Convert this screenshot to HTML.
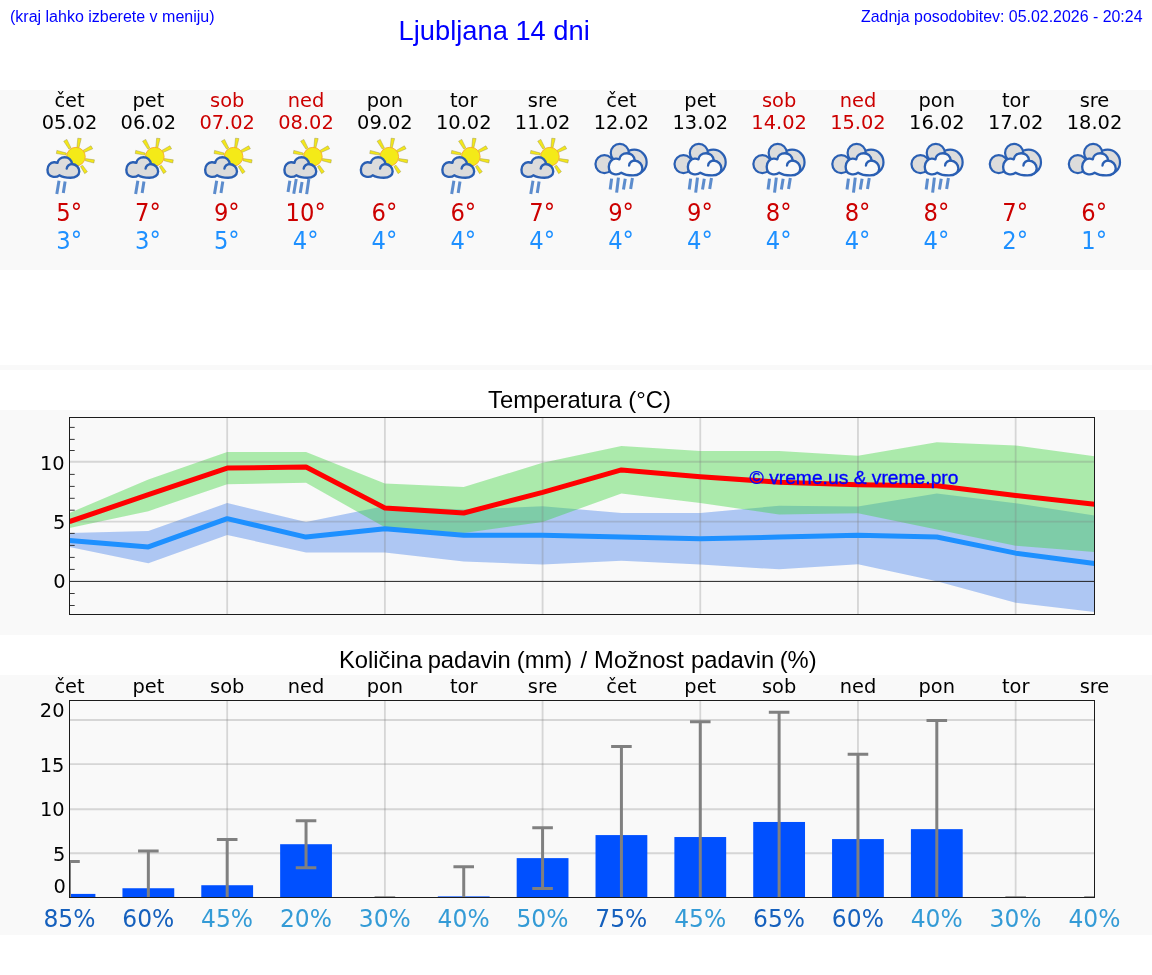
<!DOCTYPE html>
<html lang="sl">
<head>
<meta charset="utf-8">
<title>Ljubljana 14 dni</title>
<style>
html,body{margin:0;padding:0;background:#fff;}
body{width:1152px;height:975px;overflow:hidden;position:relative;}
svg{display:block;position:absolute;left:0;top:0;}
.ls{font-family:"Liberation Sans",Arial,Helvetica,sans-serif;}
.dv{font-family:"DejaVu Sans","Liberation Sans",sans-serif;}
.c{text-anchor:middle;}
.e{text-anchor:end;}
</style>
</head>
<body>
<svg width="1152" height="975" viewBox="0 0 1152 975">

<rect x="0" y="0" width="1152" height="975" fill="#ffffff"/>
<rect x="0" y="90" width="1152" height="180" fill="#f9f9f9"/>
<rect x="0" y="365" width="1152" height="5" fill="#f9f9f9"/>
<rect x="0" y="410" width="1152" height="225" fill="#f9f9f9"/>
<rect x="0" y="675" width="1152" height="260" fill="#f9f9f9"/>
<g class="ls" fill="#0000ff">
<text x="10" y="21.5" font-size="16">(kraj lahko izberete v meniju)</text>
<text x="494.2" y="39.6" font-size="27.3" class="c">Ljubljana 14 dni</text>
<text x="1142.5" y="21.5" font-size="15.93" class="e">Zadnja posodobitev: 05.02.2026 - 20:24</text>
</g>
<defs>
<path id="cl" d="M325 603C300 625 260 628 230 622C185 612 160 570 160 525C160 470 200 425 250 422C270 421 285 424 300 430C305 385 345 352 400 352C455 352 495 390 503 445C560 450 603 495 603 550C603 600 555 638 480 638C420 638 360 625 325 603Z"/>
<path id="cu" d="M503 445C470 445 430 470 428 510"/>
<g id="sun" transform="translate(36,132) scale(0.07179)">
<g fill="#f3e71a" stroke="#9c9548" stroke-opacity="0.7" stroke-width="9" stroke-linejoin="round">
<path d="M570 215L582 86L630 92L598 220Z"/>
<path d="M458 238L386 128L430 103L488 222Z"/>
<path d="M418 322L284 300L291 256L424 294Z"/>
<path d="M655 256L766 192L790 234L670 286Z"/>
<path d="M688 370L814 388L806 432L686 400Z"/>
<path d="M648 462L716 552L678 580L620 480Z"/>
</g>
<circle cx="556" cy="344" r="130" fill="#f4ea18" stroke="#f8ad2a" stroke-width="13"/>
</g>
<g id="cloudA" transform="translate(36,132) scale(0.07179)">
<use href="#cl" fill="#dcdcdc" stroke="#2a5fb3" stroke-width="33" stroke-linejoin="round"/>
<use href="#cu" fill="none" stroke="#2a5fb3" stroke-width="33" stroke-linecap="round"/>
</g>
<g id="icC"><use href="#sun"/><use href="#cloudA"/></g>
<g id="icA"><use href="#icC"/>
<path d="M59 180.8L56.8 194.1M65.1 181.5L63.3 193" stroke="#4a80c8" stroke-width="3" stroke-opacity="0.9" fill="none"/>
</g>
<g id="icB"><use href="#icC"/>
<path d="M52.9 180.8L51.1 192M59.3 179L56.8 193.7M65.1 181.9L63.3 193M71.9 179L69.7 194.1" stroke="#4a80c8" stroke-width="3" stroke-opacity="0.9" fill="none"/>
</g>
<g id="icE" transform="translate(34,132) scale(0.07179)">
<g fill="#dcdcdc" stroke="#2a5fb3" stroke-width="31">
<circle cx="670" cy="420" r="173"/>
<circle cx="469" cy="291" r="126"/>
<circle cx="255" cy="447" r="125"/>
</g>
<g transform="translate(147,-83) scale(1.056,1.077)">
<use href="#cl" fill="#f9f9f9" stroke="#2a5fb3" stroke-width="31" stroke-linejoin="round"/>
<use href="#cu" fill="none" stroke="#2a5fb3" stroke-width="31" stroke-linecap="round"/>
</g>
</g>
<g id="icD"><use href="#icE"/>
<g transform="translate(34,132) scale(0.07179)">
<path d="M355 650L335 800M450 635L425 845M545 650L520 800M645 640L620 795" stroke="#4a80c8" stroke-width="42" stroke-opacity="0.9" fill="none"/>
</g>
</g>
</defs>

<g class="dv c">
<text x="69.5" y="106.6" font-size="19.4" fill="#000000">čet</text>
<text x="69.5" y="128.8" font-size="19.4" fill="#000000">05.02</text>
<use href="#icA" x="0" y="0"/>
<text transform="translate(69.1,221) scale(0.907,1)" font-size="25" fill="#cc0000">5°</text>
<text transform="translate(69.1,248.9) scale(0.907,1)" font-size="25" fill="#1e90ff">3°</text>
<text x="148.35" y="106.6" font-size="19.4" fill="#000000">pet</text>
<text x="148.35" y="128.8" font-size="19.4" fill="#000000">06.02</text>
<use href="#icA" x="78.85" y="0"/>
<text transform="translate(147.95,221) scale(0.907,1)" font-size="25" fill="#cc0000">7°</text>
<text transform="translate(147.95,248.9) scale(0.907,1)" font-size="25" fill="#1e90ff">3°</text>
<text x="227.19" y="106.6" font-size="19.4" fill="#cc0000">sob</text>
<text x="227.19" y="128.8" font-size="19.4" fill="#cc0000">07.02</text>
<use href="#icA" x="157.69" y="0"/>
<text transform="translate(226.79,221) scale(0.907,1)" font-size="25" fill="#cc0000">9°</text>
<text transform="translate(226.79,248.9) scale(0.907,1)" font-size="25" fill="#1e90ff">5°</text>
<text x="306.04" y="106.6" font-size="19.4" fill="#cc0000">ned</text>
<text x="306.04" y="128.8" font-size="19.4" fill="#cc0000">08.02</text>
<use href="#icB" x="236.94" y="0"/>
<text transform="translate(305.64,221) scale(0.907,1)" font-size="25" fill="#cc0000">10°</text>
<text transform="translate(305.64,248.9) scale(0.907,1)" font-size="25" fill="#1e90ff">4°</text>
<text x="384.88" y="106.6" font-size="19.4" fill="#000000">pon</text>
<text x="384.88" y="128.8" font-size="19.4" fill="#000000">09.02</text>
<use href="#icC" x="313.38" y="0"/>
<text transform="translate(384.48,221) scale(0.907,1)" font-size="25" fill="#cc0000">6°</text>
<text transform="translate(384.48,248.9) scale(0.907,1)" font-size="25" fill="#1e90ff">4°</text>
<text x="463.73" y="106.6" font-size="19.4" fill="#000000">tor</text>
<text x="463.73" y="128.8" font-size="19.4" fill="#000000">10.02</text>
<use href="#icA" x="394.88" y="0"/>
<text transform="translate(463.33,221) scale(0.907,1)" font-size="25" fill="#cc0000">6°</text>
<text transform="translate(463.33,248.9) scale(0.907,1)" font-size="25" fill="#1e90ff">4°</text>
<text x="542.58" y="106.6" font-size="19.4" fill="#000000">sre</text>
<text x="542.58" y="128.8" font-size="19.4" fill="#000000">11.02</text>
<use href="#icA" x="473.98" y="0"/>
<text transform="translate(542.18,221) scale(0.907,1)" font-size="25" fill="#cc0000">7°</text>
<text transform="translate(542.18,248.9) scale(0.907,1)" font-size="25" fill="#1e90ff">4°</text>
<text x="621.42" y="106.6" font-size="19.4" fill="#000000">čet</text>
<text x="621.42" y="128.8" font-size="19.4" fill="#000000">12.02</text>
<use href="#icD" x="552.12" y="0"/>
<text transform="translate(621.02,221) scale(0.907,1)" font-size="25" fill="#cc0000">9°</text>
<text transform="translate(621.02,248.9) scale(0.907,1)" font-size="25" fill="#1e90ff">4°</text>
<text x="700.27" y="106.6" font-size="19.4" fill="#000000">pet</text>
<text x="700.27" y="128.8" font-size="19.4" fill="#000000">13.02</text>
<use href="#icD" x="631.17" y="0"/>
<text transform="translate(699.87,221) scale(0.907,1)" font-size="25" fill="#cc0000">9°</text>
<text transform="translate(699.87,248.9) scale(0.907,1)" font-size="25" fill="#1e90ff">4°</text>
<text x="779.12" y="106.6" font-size="19.4" fill="#cc0000">sob</text>
<text x="779.12" y="128.8" font-size="19.4" fill="#cc0000">14.02</text>
<use href="#icD" x="710.02" y="0"/>
<text transform="translate(778.72,221) scale(0.907,1)" font-size="25" fill="#cc0000">8°</text>
<text transform="translate(778.72,248.9) scale(0.907,1)" font-size="25" fill="#1e90ff">4°</text>
<text x="857.96" y="106.6" font-size="19.4" fill="#cc0000">ned</text>
<text x="857.96" y="128.8" font-size="19.4" fill="#cc0000">15.02</text>
<use href="#icD" x="788.96" y="0"/>
<text transform="translate(857.56,221) scale(0.907,1)" font-size="25" fill="#cc0000">8°</text>
<text transform="translate(857.56,248.9) scale(0.907,1)" font-size="25" fill="#1e90ff">4°</text>
<text x="936.81" y="106.6" font-size="19.4" fill="#000000">pon</text>
<text x="936.81" y="128.8" font-size="19.4" fill="#000000">16.02</text>
<use href="#icD" x="868.11" y="0"/>
<text transform="translate(936.41,221) scale(0.907,1)" font-size="25" fill="#cc0000">8°</text>
<text transform="translate(936.41,248.9) scale(0.907,1)" font-size="25" fill="#1e90ff">4°</text>
<text x="1015.65" y="106.6" font-size="19.4" fill="#000000">tor</text>
<text x="1015.65" y="128.8" font-size="19.4" fill="#000000">17.02</text>
<use href="#icE" x="946.45" y="0"/>
<text transform="translate(1015.25,221) scale(0.907,1)" font-size="25" fill="#cc0000">7°</text>
<text transform="translate(1015.25,248.9) scale(0.907,1)" font-size="25" fill="#1e90ff">2°</text>
<text x="1094.5" y="106.6" font-size="19.4" fill="#000000">sre</text>
<text x="1094.5" y="128.8" font-size="19.4" fill="#000000">18.02</text>
<use href="#icE" x="1025.5" y="0"/>
<text transform="translate(1094.1,221) scale(0.907,1)" font-size="25" fill="#cc0000">6°</text>
<text transform="translate(1094.1,248.9) scale(0.907,1)" font-size="25" fill="#1e90ff">1°</text>
</g>
<text x="579.5" y="408" font-size="23.8" class="ls c" fill="#000">Temperatura (°C)</text>
<clipPath id="ct"><rect x="69.5" y="417.5" width="1025.0" height="197.0"/></clipPath>
<g clip-path="url(#ct)">
<polygon points="69.5,533.12 148.35,530.97 227.19,503.06 306.04,521.91 384.88,506.04 463.73,509.62 542.58,506.28 621.42,512.96 700.27,512.96 779.12,505.8 857.96,506.4 936.81,493.51 1015.65,503.3 1094.5,515.47 1094.5,611.98 1015.65,602.67 936.81,581.2 857.96,564.14 779.12,569.27 700.27,564.62 621.42,560.68 542.58,564.62 463.73,561.4 384.88,552.57 306.04,552.57 227.19,534.91 148.35,563.31 69.5,546.96" fill="#6495ed" fill-opacity="0.5"/>
<polygon points="69.5,512.96 148.35,479.56 227.19,452 306.04,452 384.88,483.61 463.73,487.07 542.58,462.85 621.42,445.91 700.27,450.92 779.12,450.92 857.96,455.7 936.81,442.33 1015.65,445.56 1094.5,456.29 1094.5,552.09 1015.65,545.65 936.81,529.54 857.96,513.32 779.12,514.39 700.27,503.06 621.42,493.51 542.58,521.91 463.73,533.12 384.88,527.28 306.04,482.78 227.19,484.33 148.35,511.17 69.5,527.99" fill="#38d438" fill-opacity="0.4"/>
<line x1="227.19" y1="417.5" x2="227.19" y2="614.5" stroke="#808080" stroke-opacity="0.29" stroke-width="1.8"/>
<line x1="384.88" y1="417.5" x2="384.88" y2="614.5" stroke="#808080" stroke-opacity="0.29" stroke-width="1.8"/>
<line x1="542.58" y1="417.5" x2="542.58" y2="614.5" stroke="#808080" stroke-opacity="0.29" stroke-width="1.8"/>
<line x1="700.27" y1="417.5" x2="700.27" y2="614.5" stroke="#808080" stroke-opacity="0.29" stroke-width="1.8"/>
<line x1="857.96" y1="417.5" x2="857.96" y2="614.5" stroke="#808080" stroke-opacity="0.29" stroke-width="1.8"/>
<line x1="1015.65" y1="417.5" x2="1015.65" y2="614.5" stroke="#808080" stroke-opacity="0.29" stroke-width="1.8"/>
<line x1="69.5" y1="521.6" x2="1094.5" y2="521.6" stroke="#808080" stroke-opacity="0.29" stroke-width="1.9"/>
<line x1="69.5" y1="461.8" x2="1094.5" y2="461.8" stroke="#808080" stroke-opacity="0.29" stroke-width="1.9"/>
<line x1="69.5" y1="581.4" x2="1094.5" y2="581.4" stroke="#222" stroke-width="1"/>
<polyline points="69.5,540.52 148.35,546.96 227.19,518.69 306.04,537.06 384.88,528.83 463.73,535.27 542.58,535.27 621.42,537.06 700.27,538.73 779.12,537.06 857.96,535.27 936.81,537.06 1015.65,553.16 1094.5,563.54" fill="none" stroke="#1e90ff" stroke-width="5" stroke-linejoin="round"/>
<polyline points="69.5,521.55 148.35,494.71 227.19,468.1 306.04,467.03 384.88,507.95 463.73,512.96 542.58,492.44 621.42,469.89 700.27,476.69 779.12,482.18 857.96,484.69 936.81,485.76 1015.65,495.54 1094.5,504.25" fill="none" stroke="#ff0000" stroke-width="5" stroke-linejoin="round"/>
</g>
<line x1="69.5" y1="427.4" x2="74.7" y2="427.4" stroke="#222" stroke-width="0.9"/>
<line x1="69.5" y1="439.4" x2="74.7" y2="439.4" stroke="#222" stroke-width="0.9"/>
<line x1="69.5" y1="450.5" x2="74.7" y2="450.5" stroke="#222" stroke-width="0.9"/>
<line x1="69.5" y1="474.4" x2="74.7" y2="474.4" stroke="#222" stroke-width="0.9"/>
<line x1="69.5" y1="486.4" x2="74.7" y2="486.4" stroke="#222" stroke-width="0.9"/>
<line x1="69.5" y1="498.3" x2="74.7" y2="498.3" stroke="#222" stroke-width="0.9"/>
<line x1="69.5" y1="510.2" x2="74.7" y2="510.2" stroke="#222" stroke-width="0.9"/>
<line x1="69.5" y1="533.4" x2="74.7" y2="533.4" stroke="#222" stroke-width="0.9"/>
<line x1="69.5" y1="545.4" x2="74.7" y2="545.4" stroke="#222" stroke-width="0.9"/>
<line x1="69.5" y1="557.4" x2="74.7" y2="557.4" stroke="#222" stroke-width="0.9"/>
<line x1="69.5" y1="569.4" x2="74.7" y2="569.4" stroke="#222" stroke-width="0.9"/>
<line x1="69.5" y1="593.5" x2="74.7" y2="593.5" stroke="#222" stroke-width="0.9"/>
<line x1="69.5" y1="605.5" x2="74.7" y2="605.5" stroke="#222" stroke-width="0.9"/>
<rect x="69.5" y="417.5" width="1025.0" height="197.0" fill="none" stroke="#1c1c1c" stroke-width="1"/>
<g class="dv e" font-size="19.4" fill="#000">
<text x="64.7" y="470.3">10</text>
<text x="65.3" y="528.95">5</text>
<text x="65.6" y="588.4">0</text>
</g>
<text x="749.6" y="483.6" font-size="19.25" class="ls" fill="#0000ff" stroke="#0000ff" stroke-width="0.35">© vreme.us &amp; vreme.pro</text>
<text y="667.8" font-size="23.75" class="ls" fill="#000"><tspan x="338.98">Količina</tspan> <tspan x="427.64">padavin</tspan> <tspan x="516.74">(mm)</tspan> <tspan x="580.42">/</tspan> <tspan x="594.11">Možnost</tspan> <tspan x="690.97">padavin</tspan> <tspan x="779.67">(%)</tspan></text>
<g class="dv c" font-size="19.4" fill="#000">
<text x="69.5" y="693">čet</text>
<text x="148.35" y="693">pet</text>
<text x="227.19" y="693">sob</text>
<text x="306.04" y="693">ned</text>
<text x="384.88" y="693">pon</text>
<text x="463.73" y="693">tor</text>
<text x="542.58" y="693">sre</text>
<text x="621.42" y="693">čet</text>
<text x="700.27" y="693">pet</text>
<text x="779.12" y="693">sob</text>
<text x="857.96" y="693">ned</text>
<text x="936.81" y="693">pon</text>
<text x="1015.65" y="693">tor</text>
<text x="1094.5" y="693">sre</text>
</g>
<clipPath id="cp"><rect x="69.5" y="700.5" width="1025.0" height="197.0"/></clipPath>
<g clip-path="url(#cp)">
<line x1="227.19" y1="700.5" x2="227.19" y2="897.5" stroke="#808080" stroke-opacity="0.29" stroke-width="1.8"/>
<line x1="384.88" y1="700.5" x2="384.88" y2="897.5" stroke="#808080" stroke-opacity="0.29" stroke-width="1.8"/>
<line x1="542.58" y1="700.5" x2="542.58" y2="897.5" stroke="#808080" stroke-opacity="0.29" stroke-width="1.8"/>
<line x1="700.27" y1="700.5" x2="700.27" y2="897.5" stroke="#808080" stroke-opacity="0.29" stroke-width="1.8"/>
<line x1="857.96" y1="700.5" x2="857.96" y2="897.5" stroke="#808080" stroke-opacity="0.29" stroke-width="1.8"/>
<line x1="1015.65" y1="700.5" x2="1015.65" y2="897.5" stroke="#808080" stroke-opacity="0.29" stroke-width="1.8"/>
<line x1="69.5" y1="853.3" x2="1094.5" y2="853.3" stroke="#808080" stroke-opacity="0.29" stroke-width="1.9"/>
<line x1="69.5" y1="809.3" x2="1094.5" y2="809.3" stroke="#808080" stroke-opacity="0.29" stroke-width="1.9"/>
<line x1="69.5" y1="764.1" x2="1094.5" y2="764.1" stroke="#808080" stroke-opacity="0.29" stroke-width="1.9"/>
<line x1="69.5" y1="720.05" x2="1094.5" y2="720.05" stroke="#808080" stroke-opacity="0.29" stroke-width="1.9"/>
<rect x="43.6" y="893.91" width="51.8" height="4.19" fill="#0050ff"/>
<rect x="122.45" y="888.24" width="51.8" height="9.86" fill="#0050ff"/>
<rect x="201.29" y="885.23" width="51.8" height="12.87" fill="#0050ff"/>
<rect x="280.14" y="844.21" width="51.8" height="53.89" fill="#0050ff"/>
<rect x="437.83" y="896.39" width="51.8" height="1.71" fill="#0050ff"/>
<rect x="516.68" y="858.12" width="51.8" height="39.98" fill="#0050ff"/>
<rect x="595.52" y="835.08" width="51.8" height="63.02" fill="#0050ff"/>
<rect x="674.37" y="837.03" width="51.8" height="61.07" fill="#0050ff"/>
<rect x="753.22" y="821.97" width="51.8" height="76.13" fill="#0050ff"/>
<rect x="832.06" y="839.07" width="51.8" height="59.03" fill="#0050ff"/>
<rect x="910.91" y="829.14" width="51.8" height="68.96" fill="#0050ff"/>
<g stroke="#808080" stroke-width="3" fill="none">
<path d="M69.5 861.39V926.43M59.2 861.39H79.8M59.2 926.43H79.8"/>
<path d="M148.35 851.03V925.45M138.05 851.03H158.65M138.05 925.45H158.65"/>
<path d="M227.19 839.51V930.95M216.89 839.51H237.49M216.89 930.95H237.49"/>
<path d="M306.04 820.73V867.68M295.74 820.73H316.34M295.74 867.68H316.34"/>
<path d="M374.58 897.8H395.18"/>
<path d="M463.73 866.71V926.07M453.43 866.71H474.03M453.43 926.07H474.03"/>
<path d="M542.58 827.64V888.59M532.28 827.64H552.88M532.28 888.59H552.88"/>
<path d="M621.42 746.48V923.68M611.12 746.48H631.72M611.12 923.68H631.72"/>
<path d="M700.27 721.67V952.39M689.97 721.67H710.57M689.97 952.39H710.57"/>
<path d="M779.12 712.37V931.57M768.82 712.37H789.42M768.82 931.57H789.42"/>
<path d="M857.96 754.19V923.95M847.66 754.19H868.26M847.66 923.95H868.26"/>
<path d="M936.81 720.43V937.86M926.51 720.43H947.11M926.51 937.86H947.11"/>
<path d="M1005.35 897.8H1025.95"/>
<path d="M1084.2 897.8H1104.8"/>
</g>
</g>
<rect x="69.5" y="700.5" width="1025.0" height="197.0" fill="none" stroke="#1c1c1c" stroke-width="1"/>
<g class="dv e" font-size="19.4" fill="#000">
<text x="64.5" y="717.3">20</text>
<text x="64.4" y="771.6">15</text>
<text x="64.6" y="816.3">10</text>
<text x="65.4" y="861">5</text>
<text x="65.8" y="893.2">0</text>
</g>
<g class="dv c" font-size="24.8">
<text transform="translate(69.4,927) scale(0.944,1)" fill="#1560bd">85%</text>
<text transform="translate(148.25,927) scale(0.944,1)" fill="#1560bd">60%</text>
<text transform="translate(227.09,927) scale(0.944,1)" fill="#349bd6">45%</text>
<text transform="translate(305.94,927) scale(0.944,1)" fill="#349bd6">20%</text>
<text transform="translate(384.78,927) scale(0.944,1)" fill="#349bd6">30%</text>
<text transform="translate(463.63,927) scale(0.944,1)" fill="#349bd6">40%</text>
<text transform="translate(542.48,927) scale(0.944,1)" fill="#349bd6">50%</text>
<text transform="translate(621.32,927) scale(0.944,1)" fill="#1560bd">75%</text>
<text transform="translate(700.17,927) scale(0.944,1)" fill="#349bd6">45%</text>
<text transform="translate(779.02,927) scale(0.944,1)" fill="#1560bd">65%</text>
<text transform="translate(857.86,927) scale(0.944,1)" fill="#1560bd">60%</text>
<text transform="translate(936.71,927) scale(0.944,1)" fill="#349bd6">40%</text>
<text transform="translate(1015.55,927) scale(0.944,1)" fill="#349bd6">30%</text>
<text transform="translate(1094.4,927) scale(0.944,1)" fill="#349bd6">40%</text>
</g>
</svg>
</body>
</html>
